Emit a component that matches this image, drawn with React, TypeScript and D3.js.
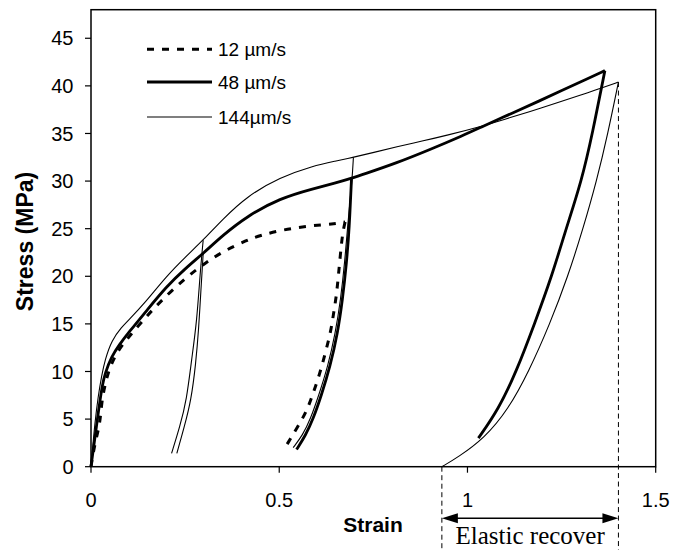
import React from "react";
import * as d3 from "d3";

// ---- data (strain, stress MPa) ----
const xTicks = [0, 0.5, 1, 1.5];
const xTickLabels = ["0", "0.5", "1", "1.5"];
const yTicks = [0, 5, 10, 15, 20, 25, 30, 35, 40, 45];

// 12 µm/s (dashed)
const load12Strain = [0, 0.006, 0.014, 0.024, 0.028, 0.037, 0.05, 0.073, 0.1, 0.117, 0.15, 0.188, 0.25, 0.3, 0.35, 0.414, 0.45, 0.511, 0.58, 0.644, 0.675];
const load12Stress = [0, 1.5, 3.0, 4.6, 6.7, 8.6, 10.5, 12.3, 13.6, 14.4, 15.9, 17.5, 19.8, 21.3, 22.6, 23.8, 24.3, 24.9, 25.3, 25.5, 25.7];
const unload12Strain = [0.675, 0.668, 0.662, 0.657, 0.652, 0.644, 0.636, 0.622, 0.608, 0.59, 0.573, 0.546, 0.52];
const unload12Stress = [25.7, 24.5, 22.1, 20.0, 18.0, 16.0, 14.0, 11.9, 9.8, 7.7, 5.8, 4.0, 2.3];

// 48 µm/s (thick)
const load48Strain = [0, 0.005, 0.011, 0.017, 0.024, 0.03, 0.037, 0.055, 0.075, 0.1, 0.15, 0.2, 0.25, 0.298, 0.35, 0.414, 0.502, 0.59, 0.65, 0.692, 0.723, 0.812, 0.9, 0.989, 1.033, 1.122, 1.19, 1.255, 1.31, 1.365];
const load48Stress = [0, 1.5, 3.2, 5.0, 7.0, 8.5, 9.8, 11.6, 12.8, 14.1, 16.5, 18.9, 20.8, 22.4, 24.3, 26.3, 28.2, 29.2, 29.8, 30.3, 30.7, 31.9, 33.3, 34.8, 35.6, 37.2, 38.4, 39.6, 40.6, 41.6];
const unload48aStrain = [0.692, 0.686, 0.679, 0.668, 0.655, 0.635, 0.612, 0.59, 0.57, 0.546];
const unload48aStress = [30.3, 25, 21.5, 17.5, 14, 10.5, 7.5, 5.0, 3.3, 1.8];
const unload48bStrain = [1.365, 1.332, 1.303, 1.262, 1.224, 1.178, 1.13, 1.082, 1.029];
const unload48bStress = [41.6, 35, 30, 25, 20, 15, 10, 6, 3];

// 144 µm/s (thin)
const load144Strain = [0, 0.004, 0.01, 0.019, 0.028, 0.037, 0.055, 0.082, 0.1, 0.143, 0.2, 0.25, 0.298, 0.35, 0.414, 0.502, 0.59, 0.65, 0.697, 0.75, 0.812, 0.88, 0.945, 1.033, 1.1, 1.166, 1.235, 1.299, 1.35, 1.401];
const load144Stress = [0, 1.8, 4.5, 7.4, 9.5, 11.2, 13.3, 14.7, 15.4, 17.2, 20.0, 22.0, 23.8, 26.0, 28.4, 30.4, 31.6, 32.1, 32.5, 33.0, 33.6, 34.2, 34.8, 35.7, 36.5, 37.3, 38.2, 39.0, 39.7, 40.4];
const unload144aStrain = [0.298, 0.29, 0.281, 0.267, 0.254, 0.236, 0.214];
const unload144aStress = [23.8, 20.4, 15.2, 11.2, 7.0, 4.2, 1.4];
const unload144bStrain = [0.298, 0.292, 0.286, 0.278, 0.266, 0.248, 0.228];
const unload144bStress = [22.4, 18.6, 14.4, 10.7, 7.0, 4.2, 1.4];
const unload144cStrain = [0.697, 0.694, 0.681, 0.674, 0.663, 0.649, 0.629, 0.605, 0.583, 0.562, 0.537];
const unload144cStress = [32.5, 30.3, 25, 21.5, 17.5, 14, 10.5, 7.5, 5.0, 3.3, 2.0];
const unload144dStrain = [1.401, 1.373, 1.343, 1.307, 1.267, 1.219, 1.163, 1.108, 1.045, 0.975, 0.932];
const unload144dStress = [40.4, 35, 30, 25, 20, 15, 10, 6, 3, 1, 0];

const legendLabels = ["12 µm/s", "48 µm/s", "144µm/s"];
const recoverStart = 0.932;
const recoverEnd = 1.401;
const recoverTopStress = 40.4;

const W = 673;
const H = 550;
const M = { left: 91, right: 655.7, top: 9.7, bottom: 466.7 };

export default function App() {
  const x = d3.scaleLinear().domain([0, 1.5]).range([M.left, M.right]);
  const y = d3.scaleLinear().domain([0, 48]).range([M.bottom, M.top]);
  const line = d3
    .line<[number, number]>()
    .x((d) => x(d[0]))
    .y((d) => y(d[1]))
    .curve(d3.curveBasis);
  const pts = (s: number[], v: number[]) => s.map((d, i) => [d, v[i]] as [number, number]);

  const dashed = { stroke: "#000", strokeWidth: 3, fill: "none", strokeDasharray: "7,8" };
  const thick = { stroke: "#000", strokeWidth: 2.8, fill: "none" };
  const thin = { stroke: "#000", strokeWidth: 1.1, fill: "none" };

  const font = "'Liberation Sans', Arial, sans-serif";
  const yArrow = 518.3;
  const xa = x(recoverStart);
  const xb = x(recoverEnd);

  const legendY = [49.3, 82, 117];
  const legendStyles = [dashed, thick, thin];

  return (
    <svg width={W} height={H} style={{ position: "absolute", left: 0, top: 0, background: "#fff" }}>
      <rect x={0} y={0} width={W} height={H} fill="#fff" />
      {/* frame */}
      <rect x={M.left} y={M.top} width={M.right - M.left} height={M.bottom - M.top} fill="none" stroke="#000" strokeWidth={1.5} />
      {/* y ticks */}
      {yTicks.map((t) => (
        <g key={"y" + t}>
          <line x1={M.left - 6} x2={M.left} y1={y(t)} y2={y(t)} stroke="#000" strokeWidth={1.2} />
          <text x={73.5} y={y(t)} dy="0.36em" textAnchor="end" fontFamily={font} fontSize={20}>
            {t}
          </text>
        </g>
      ))}
      {/* x ticks */}
      {xTicks.map((t, i) => (
        <g key={"x" + t}>
          <line x1={x(t)} x2={x(t)} y1={M.bottom} y2={M.bottom + 6} stroke="#000" strokeWidth={1.2} />
          <text x={x(t)} y={506.5} textAnchor="middle" fontFamily={font} fontSize={20}>
            {xTickLabels[i]}
          </text>
        </g>
      ))}
      <text x={373} y={531.5} textAnchor="middle" fontFamily={font} fontWeight="bold" fontSize={21}>
        Strain
      </text>
      <text transform={`translate(33,241.5) rotate(-90)`} textAnchor="middle" fontFamily={font} fontWeight="bold" fontSize={23}>
        Stress (MPa)
      </text>

      {/* curves */}
      <path d={line(pts(load12Strain, load12Stress)) || ""} {...dashed} />
      <path d={line(pts(unload12Strain, unload12Stress)) || ""} {...dashed} />
      <path d={line(pts(load144Strain, load144Stress)) || ""} {...thin} />
      <path d={line(pts(unload144aStrain, unload144aStress)) || ""} {...thin} />
      <path d={line(pts(unload144bStrain, unload144bStress)) || ""} {...thin} />
      <path d={line(pts(unload144cStrain, unload144cStress)) || ""} {...thin} />
      <path d={line(pts(unload144dStrain, unload144dStress)) || ""} {...thin} />
      <path d={line(pts(load48Strain, load48Stress)) || ""} {...thick} />
      <path d={line(pts(unload48aStrain, unload48aStress)) || ""} {...thick} />
      <path d={line(pts(unload48bStrain, unload48bStress)) || ""} {...thick} />

      {/* legend */}
      {legendLabels.map((lab, i) => (
        <g key={lab}>
          <line x1={147} x2={212} y1={legendY[i]} y2={legendY[i]} {...legendStyles[i]} />
          <text x={218} y={legendY[i]} dy="0.36em" fontFamily={font} fontSize={19}>
            {lab}
          </text>
        </g>
      ))}

      {/* elastic recovery annotation */}
      <line x1={xa} x2={xa} y1={y(0)} y2={H} stroke="#000" strokeWidth={1} strokeDasharray="5,3.5" />
      <line x1={xb} x2={xb} y1={y(recoverTopStress)} y2={H} stroke="#000" strokeWidth={1} strokeDasharray="5,3.5" />
      <line x1={xa + 12} x2={xb - 12} y1={yArrow} y2={yArrow} stroke="#000" strokeWidth={1.5} />
      <path d={`M${xa},${yArrow} L${xa + 16},${yArrow - 5} L${xa + 16},${yArrow + 5} Z`} fill="#000" />
      <path d={`M${xb},${yArrow} L${xb - 16},${yArrow - 5} L${xb - 16},${yArrow + 5} Z`} fill="#000" />
      <text x={(xa + xb) / 2} y={544} textAnchor="middle" fontFamily="'Liberation Serif', 'Times New Roman', serif" fontSize={25}>
        Elastic recover
      </text>
    </svg>
  );
}
